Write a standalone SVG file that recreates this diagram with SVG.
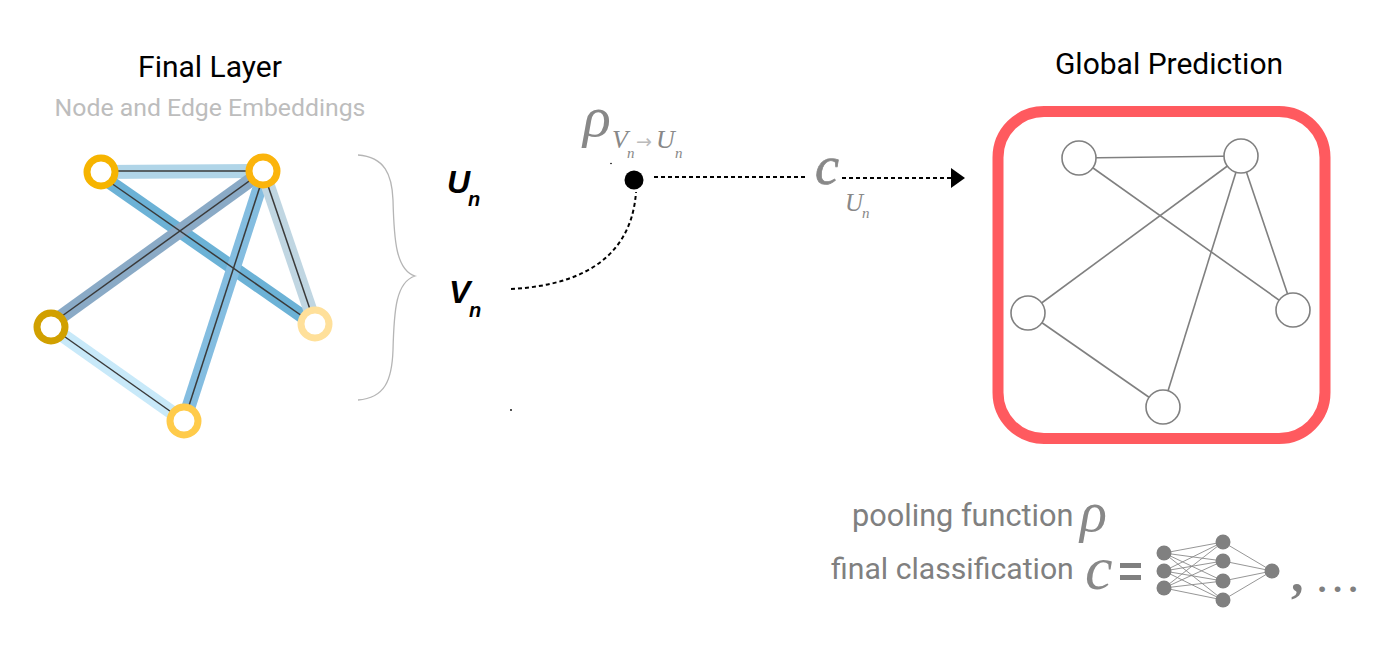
<svg xmlns="http://www.w3.org/2000/svg" width="1382" height="651" viewBox="0 0 1382 651">
<style>
.r{font-family:Roboto,"Liberation Sans",sans-serif}
.m{font-family:"Liberation Serif",serif;font-style:italic;fill:#888}
.b{font-family:"Liberation Sans",sans-serif;font-style:italic;font-weight:bold;fill:#000}
.thin{stroke:#3a3a3a;stroke-width:1.5;fill:none}
.thick{stroke-width:14;fill:none}
.ln{stroke:#808080;stroke-width:1.6;fill:none}
.gn{fill:#fff;stroke:#808080;stroke-width:1.6}
.nn{stroke:#8a8a8a;stroke-width:.9;fill:none}
.dot{stroke:#000;stroke-width:2;fill:none;stroke-dasharray:4 3}
.f{fill:#808080}
</style>
<defs><marker id="ah" markerUnits="userSpaceOnUse" markerWidth="15" markerHeight="20" refX="1" refY="10" orient="auto"><path d="M1 0 L15 10 L1 20Z" fill="#000"/></marker></defs>
<rect width="1382" height="651" fill="#fff"/>
<g id="titles">
<text class="r" x="210" y="77" font-size="30" text-anchor="middle" fill="#000">Final Layer</text>
<text class="r" x="210" y="116" font-size="24.800" text-anchor="middle" fill="#bdbdbd">Node and Edge Embeddings</text>
<text class="r" x="1169" y="74" font-size="30" text-anchor="middle" fill="#000">Global Prediction</text>
</g>
<g id="connectors">
<line class="thick" stroke="#b0d5e8" x1="101" y1="172" x2="263" y2="171"/>
<line class="thick" stroke="#6cb2d6" x1="101" y1="176" x2="315" y2="325"/>
<line class="thick" stroke="#8aaac6" x1="51" y1="324" x2="263" y2="171"/>
<line class="thick" stroke="#84bde0" x1="184" y1="421" x2="265" y2="171"/>
<line class="thick" stroke="#c0d6e2" x1="315" y1="324" x2="263" y2="171"/>
<line class="thick" stroke="#c8e9f9" x1="51" y1="327" x2="184" y2="421"/>
<line class="thin" x1="101" y1="171" x2="263" y2="171"/>
<line class="thin" x1="101" y1="176" x2="315" y2="325"/>
<line class="thin" x1="51" y1="324" x2="263" y2="171"/>
<line class="thin" x1="184" y1="421" x2="265" y2="171"/>
<line class="thin" x1="315" y1="324" x2="263" y2="171"/>
<line class="thin" x1="51" y1="327" x2="184" y2="421"/>
<path d="M358 155 C385 157 392 175 393 200 C394 240 396 270 415 276 C396 282 394 310 393 350 C392 380 385 398 358 400" fill="none" stroke="#b5b5b5" stroke-width="1.3"/>
<path class="dot" d="M511 289 C570 286 631 265 636 192"/>
<line class="dot" x1="654" y1="177" x2="806" y2="177"/>
<line class="dot" x1="842" y1="178" x2="951" y2="178" marker-end="url(#ah)"/>
<line class="ln" x1="1079" y1="158" x2="1241" y2="156"/>
<line class="ln" x1="1079" y1="158" x2="1293" y2="310"/>
<line class="ln" x1="1028" y1="313" x2="1241" y2="156"/>
<line class="ln" x1="1163" y1="407" x2="1241" y2="156"/>
<line class="ln" x1="1293" y1="310" x2="1241" y2="156"/>
<line class="ln" x1="1028" y1="313" x2="1163" y2="407"/>
</g>
<g id="final-a"><circle cx="101" cy="172" r="14" fill="#fff" stroke="#f6b400" stroke-width="7"/></g>
<g id="final-b"><circle cx="263" cy="171" r="14" fill="#fff" stroke="#fbb40c" stroke-width="7"/></g>
<g id="final-c"><circle cx="51" cy="327" r="14" fill="#fff" stroke="#d1a000" stroke-width="7"/></g>
<g id="final-d"><circle cx="315" cy="324" r="14" fill="#fff" stroke="#ffe09a" stroke-width="7"/></g>
<g id="final-e"><circle cx="184" cy="421" r="14" fill="#fff" stroke="#ffcb4a" stroke-width="7"/></g>
<g id="un"><text class="b" x="447" y="193" font-size="32">U</text><text class="b" x="468" y="206" font-size="20">n</text></g>
<g id="vn"><text class="b" x="449" y="303" font-size="32">V</text><text class="b" x="469" y="317" font-size="20">n</text></g>
<g id="pool-dot"><circle cx="634" cy="180" r="9.500" fill="#000"/></g>
<g id="rho">
<text class="m" x="583" y="136" font-size="58">ρ</text>
<text class="m" x="612" y="148" font-size="26">V</text><text class="m" x="627" y="158" font-size="15">n</text>
<text x="636" y="148" font-size="19" fill="#bbb" font-family="'DejaVu Sans',sans-serif">→</text>
<text class="m" x="656" y="148" font-size="26">U</text><text class="m" x="675" y="158" font-size="15">n</text>
</g>
<g id="specks"><circle cx="611" cy="163.500" r=".8" fill="#000"/><circle cx="511" cy="410" r=".9" fill="#000"/></g>
<g id="c-label"><text class="m" x="815" y="184" font-size="54" stroke="#888" stroke-width=".7">c</text><text class="m" x="845" y="211" font-size="25">U</text><text class="m" x="862" y="218" font-size="15">n</text></g>
<g id="global-box"><rect x="998" y="111.500" width="327" height="327" rx="46" fill="none" stroke="#ff5a5f" stroke-width="11"/></g>
<g id="pred-a"><circle class="gn" cx="1079" cy="158" r="17"/></g>
<g id="pred-b"><circle class="gn" cx="1241" cy="156" r="17"/></g>
<g id="pred-c"><circle class="gn" cx="1028" cy="313" r="17"/></g>
<g id="pred-d"><circle class="gn" cx="1293" cy="310" r="17"/></g>
<g id="pred-e"><circle class="gn" cx="1163" cy="407" r="17"/></g>
<g id="legend">
<text class="r" x="852" y="526" font-size="30.700" fill="#808080">pooling function</text>
<text class="m" x="1080" y="531" font-size="56">ρ</text>
<text class="r" x="831" y="579" font-size="30.200" fill="#808080">final classification</text>
<text class="m" x="1085" y="589" font-size="62">c</text>
<rect class="f" x="1120" y="563" width="21" height="5"/><rect class="f" x="1120" y="575" width="21" height="5"/>
<text x="1291" y="591" font-size="50" font-weight="bold" fill="#808080" font-family="'Liberation Serif',serif">,</text>
<text class="r" x="1317" y="592" font-size="36" font-weight="bold" letter-spacing="5" fill="#808080">...</text>
</g>
<g id="nn">
<path class="nn" d="M1164 553L1223 542M1164 553L1223 561M1164 553L1223 581M1164 553L1223 600M1164 571L1223 542M1164 571L1223 561M1164 571L1223 581M1164 571L1223 600M1164 588L1223 542M1164 588L1223 561M1164 588L1223 581M1164 588L1223 600M1223 542L1272 571M1223 561L1272 571M1223 581L1272 571M1223 600L1272 571"/>
<g class="f">
<circle cx="1164" cy="553" r="7.500"/><circle cx="1164" cy="571" r="7.500"/><circle cx="1164" cy="588" r="7.500"/>
<circle cx="1223" cy="542" r="7.500"/><circle cx="1223" cy="561" r="7.500"/><circle cx="1223" cy="581" r="7.500"/><circle cx="1223" cy="600" r="7.500"/>
<circle cx="1272" cy="571" r="7.500"/>
</g>
</g>
</svg>
